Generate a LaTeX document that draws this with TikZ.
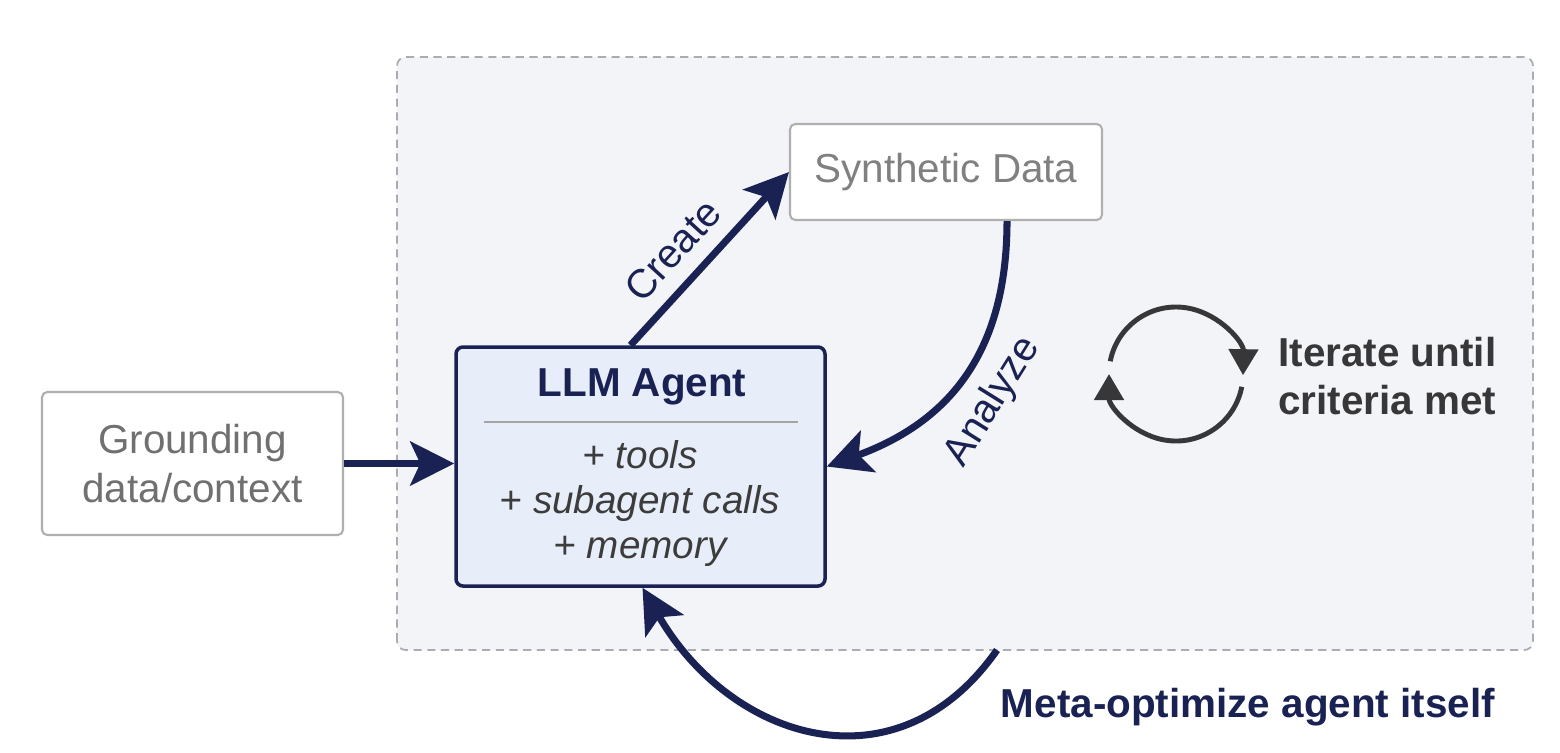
\documentclass[tikz,border=0pt]{standalone}
\usepackage{fontspec}
\setmainfont{Liberation Sans}
\usetikzlibrary{arrows.meta}

\definecolor{navy}{RGB}{26,34,84}
\definecolor{agentblue}{RGB}{232,238,249}
\definecolor{boxgray}{RGB}{175,175,175}
\definecolor{textgray}{RGB}{112,112,112}
\definecolor{synthgray}{RGB}{128,128,128}
\definecolor{listgray}{RGB}{60,60,60}
\definecolor{icongray}{RGB}{55,55,58}
\definecolor{panelfill}{RGB}{243,244,247}
\definecolor{paneldash}{RGB}{170,172,178}
\definecolor{rulegray}{RGB}{165,165,165}

\begin{document}
\begin{tikzpicture}[
    plainbox/.style={draw=boxgray, line width=0.6pt, fill=white, rounded corners=1.5pt},
    flow/.style={draw=navy, line width=2pt, -{Stealth[length=4.4mm, width=4.4mm, inset=1mm]}},
    cycle/.style={draw=icongray, line width=1.4pt, -{Triangle[length=2.6mm, width=2.9mm]}}
]
\useasboundingbox (0,0) rectangle (15.6,7.52);
\fill[white] (0,0) rectangle (15.6,7.52);

% loop panel
\draw[fill=panelfill, draw=paneldash, line width=0.5pt, dash pattern=on 2.3pt off 1.6pt, rounded corners=2.5pt] (3.97,1.02) rectangle (15.33,6.95);

% boxes
\node[plainbox, text=textgray, minimum width=3.01cm, minimum height=1.43cm, align=center, font=\fontsize{11.5}{14.2}\selectfont] (ground) at (1.925,2.885) {Grounding\\data/context};
\node[draw=navy, fill=agentblue, line width=1pt, rounded corners=2pt, minimum width=3.69cm, minimum height=2.39cm] (agent) at (6.405,2.855) {};
\node[text=navy, font=\bfseries\fontsize{11.5}{14}\selectfont] (title) at (6.42,3.65) {LLM Agent};
\draw[rulegray, line width=0.6pt] (4.84,3.30) -- (7.98,3.30);
\node[text=listgray, align=center, font=\itshape\fontsize{11}{12.8}\selectfont] (skills) at (6.40,2.49) {+ tools\\+ subagent calls\\+ memory};
\node[plainbox, text=synthgray, minimum width=3.12cm, minimum height=0.96cm, font=\fontsize{11.5}{14}\selectfont] (synth) at (9.46,5.80) {Synthetic Data};

% arrows
\draw[flow] (ground.east) -- (ground.east -| agent.west);
\draw[flow] ([xshift=-0.1cm]agent.north) -- (synth.west)
    node[pos=0.42, sloped, above=1pt, text=navy, font=\fontsize{11.5}{14}\selectfont] (create) {Create};
\draw[flow] ([xshift=0.61cm]synth.south) to[out=-90, in=20, looseness=1.1] (agent.east);
\node[text=navy, rotate=58, font=\fontsize{11.5}{14}\selectfont] (analyze) at (9.93,3.50) {Analyze};
\coordinate (metastart) at (9.97,1.02);
\draw[flow] (metastart) to[out=-125, in=-60, looseness=1.25] ([xshift=0.02cm]agent.south);

% iterate icon
\coordinate (cyc) at (11.76,3.78);
\draw[cycle] ([shift={(169:0.67)}]cyc) arc[start angle=169, end angle=-1, radius=0.67];
\draw[cycle] ([shift={(-11:0.67)}]cyc) arc[start angle=-11, end angle=-180, radius=0.67];
\node[anchor=west, align=left, text=icongray, font=\bfseries\fontsize{11.5}{13.6}\selectfont] (iterate) at (12.66,3.76) {Iterate until\\criteria met};

\node[text=navy, font=\bfseries\fontsize{11.5}{14}\selectfont] (meta) at (12.48,0.45) {Meta-optimize agent itself};
\end{tikzpicture}
\end{document}
